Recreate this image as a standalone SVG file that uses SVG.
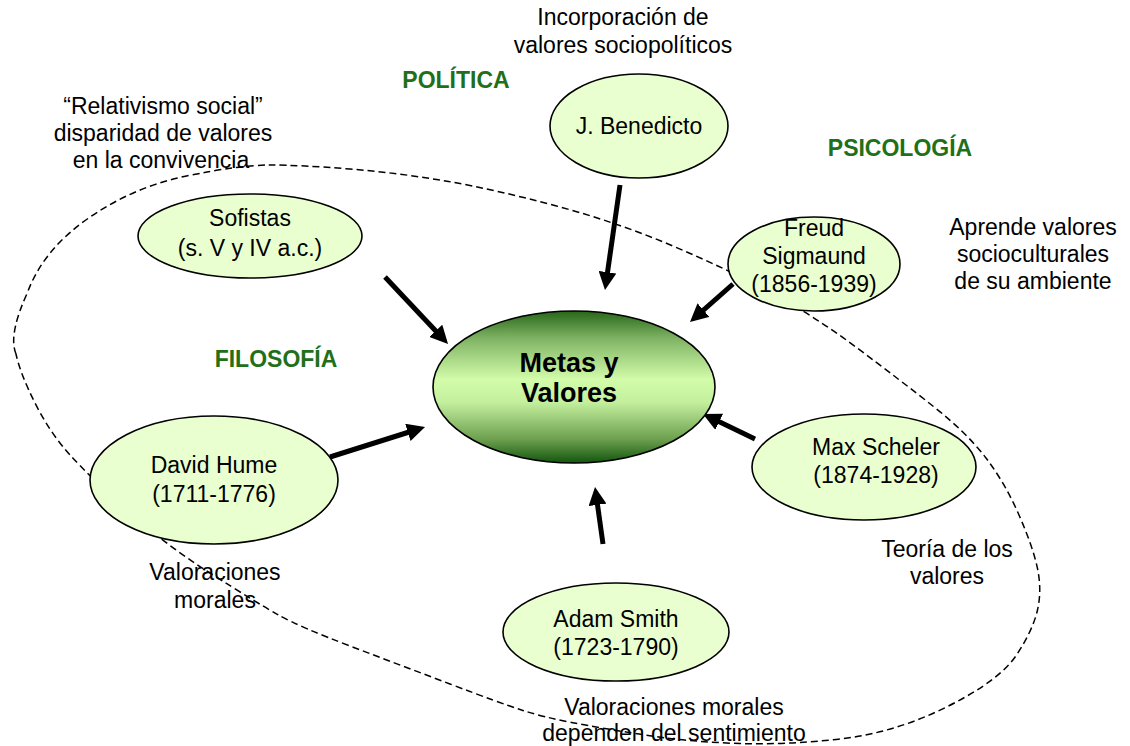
<svg xmlns="http://www.w3.org/2000/svg" width="1130" height="746" viewBox="0 0 1130 746">
  <style>
    .txt { font-family: "Liberation Sans", Arial, sans-serif; font-size: 23px; fill: #000; text-anchor: middle; }
    .area { font-family: "Liberation Sans", Arial, sans-serif; font-size: 23px; font-weight: bold; fill: #1f7019; text-anchor: middle; }
    .node { fill: #eaffcf; stroke: #000; stroke-width: 1.6; }
    .arrow { stroke: #000; stroke-width: 5; fill: none; marker-end: url(#head); }
    .boundary { fill: none; stroke: #000; stroke-width: 1.5; stroke-dasharray: 7 4; }
  </style>
  <defs>
    <linearGradient id="centreFill" x1="0" y1="0" x2="0" y2="1">
      <stop offset="0" stop-color="#276619"/>
      <stop offset="0.18" stop-color="#7fb363"/>
      <stop offset="0.45" stop-color="#d2fcaa"/>
      <stop offset="0.6" stop-color="#c4f09e"/>
      <stop offset="0.85" stop-color="#6a9d4c"/>
      <stop offset="1" stop-color="#12560e"/>
    </linearGradient>
    <marker id="head" viewBox="0 0 18 18" markerUnits="userSpaceOnUse" markerWidth="18" markerHeight="18" refX="8" refY="9" orient="auto">
      <path d="M0,0 L18,9 L0,18 z" fill="#000"/>
    </marker>
  </defs>

  <rect width="1130" height="746" fill="#fff"/>

  <!-- dashed boundary around the influences -->
  <g id="boundary">
    <path class="boundary" d="M16,354 Q8,335 27.5,292.5 Q43,250 88,218.5 Q133,187 186.5,176 Q240,165 270,165 Q300,165 350,169 Q400,173 448.5,181.5 Q497,190 556.5,206 Q616,222 670.5,245 Q725,268 769,291.5 Q813,315 856.5,347.5 Q900,380 933.5,406.5 Q967,433 986,458 Q1005,483 1019,515 Q1033,547 1037.5,568.5 Q1042,590 1037.5,610 Q1033,630 1016.5,655 Q1000,680 948.5,706 Q897,732 843.5,738.5 Q790,745 740,743.5 Q690,742 645,735 Q600,728 571.5,722.5 Q543,717 521.5,710 Q500,703 450,684 Q400,665 350,646 Q300,627 278.5,615 Q257,603 210,573 Q163,543 126.5,510 Q90,477 70,455 Q50,433 35,403 Q20,373 16,354 Z"/>
  </g>

  <!-- labels -->
  <g id="labels">
    <text class="txt" x="623" y="25">Incorporación de</text>
    <text class="txt" x="623" y="53">valores sociopolíticos</text>
    <text class="txt" x="163" y="114">“Relativismo social”</text>
    <text class="txt" x="163" y="141">disparidad de valores</text>
    <text class="txt" x="161" y="168">en la convivencia</text>
    <text class="txt" x="1033" y="235">Aprende valores</text>
    <text class="txt" x="1033" y="262">socioculturales</text>
    <text class="txt" x="1033" y="289">de su ambiente</text>
    <text class="txt" x="947" y="557">Teoría de los</text>
    <text class="txt" x="947" y="584">valores</text>
    <text class="txt" x="215" y="580">Valoraciones</text>
    <text class="txt" x="215" y="608">morales</text>
    <text class="txt" x="674" y="715">Valoraciones morales</text>
    <text class="txt" x="674" y="741">dependen del sentimiento</text>
    <text class="area" x="456" y="88">POLÍTICA</text>
    <text class="area" x="900" y="156">PSICOLOGÍA</text>
    <text class="area" x="276" y="367">FILOSOFÍA</text>
  </g>

  <!-- arrows towards the centre -->
  <g id="connectors">
    <line class="arrow" x1="620" y1="185" x2="606.4" y2="280.1"/>
    <line class="arrow" x1="385" y1="277" x2="441.2" y2="336.7"/>
    <line class="arrow" x1="733" y1="284" x2="697.5" y2="315.4"/>
    <line class="arrow" x1="330" y1="457" x2="415.5" y2="430"/>
    <line class="arrow" x1="755" y1="439" x2="712" y2="418.3"/>
    <line class="arrow" x1="603" y1="544" x2="596.4" y2="496.9"/>
  </g>

  <g id="node-centre">
    <ellipse cx="574" cy="387" rx="141" ry="76" fill="url(#centreFill)" stroke="#000" stroke-width="1.6"/>
    <text class="txt" x="569" y="372" style="font-weight:bold;font-size:27px">Metas y</text>
    <text class="txt" x="569" y="402" style="font-weight:bold;font-size:27px">Valores</text>
  </g>

  <g id="node-benedicto">
    <ellipse class="node" cx="639" cy="126" rx="89" ry="52"/>
    <text class="txt" x="639" y="134">J. Benedicto</text>
  </g>

  <g id="node-sofistas">
    <ellipse class="node" cx="250" cy="236" rx="112" ry="42"/>
    <text class="txt" x="250" y="226">Sofistas</text>
    <text class="txt" x="250" y="256">(s. V y IV a.c.)</text>
  </g>

  <g id="node-freud">
    <ellipse class="node" cx="814" cy="264" rx="86" ry="47"/>
    <text class="txt" x="814" y="236">Freud</text>
    <text class="txt" x="814" y="264">Sigmaund</text>
    <text class="txt" x="814" y="292">(1856-1939)</text>
  </g>

  <g id="node-hume">
    <ellipse class="node" cx="214" cy="480" rx="124" ry="64"/>
    <text class="txt" x="214" y="473">David Hume</text>
    <text class="txt" x="214" y="502">(1711-1776)</text>
  </g>

  <g id="node-scheler">
    <ellipse class="node" cx="864" cy="467" rx="112" ry="53"/>
    <text class="txt" x="876" y="455">Max Scheler</text>
    <text class="txt" x="876" y="483">(1874-1928)</text>
  </g>

  <g id="node-smith">
    <ellipse class="node" cx="616" cy="632" rx="113" ry="49"/>
    <text class="txt" x="616" y="627">Adam Smith</text>
    <text class="txt" x="616" y="655">(1723-1790)</text>
  </g>
</svg>
